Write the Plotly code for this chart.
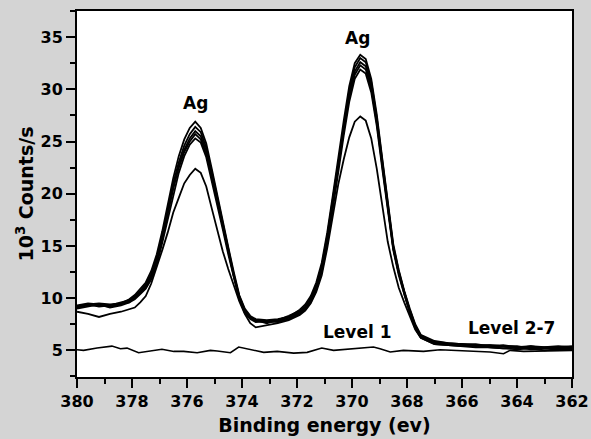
import plotly.graph_objects as go

# Shared binding-energy grid for the Ag spectra (eV)
energy = [380.0, 379.6, 379.2, 378.8, 378.4, 378.1, 377.9, 377.7, 377.5, 377.3,
          377.1, 376.9, 376.7, 376.5, 376.3, 376.1, 375.9, 375.7, 375.5, 375.3,
          375.1, 374.9, 374.7, 374.5, 374.3, 374.1, 373.9, 373.7, 373.5, 373.1,
          372.7, 372.3, 371.9, 371.7, 371.5, 371.3, 371.1, 370.9, 370.7, 370.5,
          370.3, 370.1, 369.9, 369.7, 369.5, 369.3, 369.1, 368.9, 368.7, 368.5,
          368.3, 368.1, 367.9, 367.7, 367.5, 367.0, 366.5, 366.0, 365.5, 365.0,
          364.5, 364.0, 363.5, 363.0, 362.5, 362.0]

# 10^3 counts/s, levels 2-7
level2 = [8.7, 8.5, 8.2, 8.5, 8.7, 8.9, 9.1, 9.6, 10.2, 11.4,
          12.9, 14.6, 16.3, 18.2, 19.6, 21.0, 21.8, 22.4, 22.0, 20.7,
          18.6, 16.4, 14.5, 12.8, 11.2, 9.7, 8.5, 7.6, 7.2, 7.4,
          7.6, 7.9, 8.4, 8.8, 9.5, 10.6, 12.2, 14.8, 17.8, 20.9,
          23.3, 25.4, 26.9, 27.4, 27.0, 25.3, 22.4, 18.7, 15.4, 13.0,
          11.0, 9.6, 8.2, 7.0, 6.2, 5.6, 5.5, 5.4, 5.3, 5.3,
          5.2, 5.1, 5.2, 5.0, 5.1, 5.1]
level3 = [9.0, 9.2, 9.4, 9.1, 9.3, 9.6, 9.9, 10.4, 10.9, 11.8,
          13.2, 15.3, 17.6, 20.0, 22.0, 23.6, 24.7, 25.3, 24.9, 23.5,
          21.3, 18.9, 16.6, 14.2, 12.0, 9.9, 8.6, 8.0, 7.7, 7.8,
          7.7, 8.0, 8.5, 8.9, 9.6, 10.8, 12.5, 15.2, 18.5, 22.3,
          25.6, 28.8, 31.0, 31.9, 31.5, 29.7, 26.5, 22.4, 18.3, 14.6,
          12.2, 10.3, 8.6, 7.1, 6.2, 5.6, 5.5, 5.4, 5.5, 5.3,
          5.2, 5.3, 5.1, 5.2, 5.1, 5.2]
level4 = [9.2, 9.4, 9.2, 9.3, 9.5, 9.6, 10.1, 10.6, 11.2, 12.2,
          13.7, 15.8, 18.3, 20.6, 22.5, 24.0, 25.0, 25.7, 25.2, 23.8,
          21.6, 19.2, 16.8, 14.4, 12.2, 10.1, 8.8, 8.1, 7.9, 7.6,
          7.9, 8.2, 8.7, 9.1, 9.9, 11.1, 12.9, 15.8, 19.2, 22.9,
          26.2, 29.3, 31.4, 32.3, 31.9, 30.1, 26.8, 22.7, 18.5, 14.8,
          12.4, 10.5, 8.8, 7.3, 6.4, 5.8, 5.6, 5.6, 5.4, 5.5,
          5.4, 5.2, 5.4, 5.3, 5.3, 5.1]
level5 = [9.1, 9.3, 9.3, 9.2, 9.4, 9.7, 10.0, 10.5, 11.0, 12.0,
          13.5, 15.6, 18.1, 20.5, 22.6, 24.2, 25.3, 26.0, 25.5, 24.1,
          21.8, 19.3, 16.9, 14.4, 12.1, 10.0, 8.7, 8.1, 7.8, 7.7,
          7.8, 8.1, 8.6, 9.0, 9.8, 11.0, 12.8, 15.6, 19.0, 22.8,
          26.2, 29.5, 31.7, 32.6, 32.2, 30.3, 27.0, 22.8, 18.6, 14.8,
          12.4, 10.4, 8.7, 7.2, 6.3, 5.7, 5.6, 5.5, 5.45, 5.4,
          5.35, 5.3, 5.3, 5.25, 5.2, 5.3]
level6 = [9.3, 9.5, 9.4, 9.3, 9.6, 9.8, 10.2, 10.7, 11.3, 12.3,
          13.9, 16.0, 18.5, 21.0, 23.0, 24.6, 25.7, 26.4, 25.9, 24.4,
          22.1, 19.6, 17.2, 14.7, 12.3, 10.2, 8.9, 8.2, 7.9, 7.8,
          7.9, 8.3, 8.8, 9.2, 10.0, 11.3, 13.1, 16.0, 19.4, 23.2,
          26.6, 29.9, 32.1, 33.0, 32.6, 30.7, 27.3, 23.1, 18.9, 15.0,
          12.6, 10.6, 8.9, 7.4, 6.4, 5.8, 5.7, 5.6, 5.5, 5.5,
          5.4, 5.4, 5.2, 5.3, 5.4, 5.3]
level7 = [9.2, 9.4, 9.5, 9.4, 9.5, 9.9, 10.3, 10.9, 11.5, 12.6,
          14.2, 16.4, 19.0, 21.5, 23.6, 25.2, 26.3, 26.9, 26.3, 24.8,
          22.4, 19.8, 17.4, 14.9, 12.5, 10.3, 9.0, 8.3, 8.0, 7.9,
          8.0, 8.2, 8.9, 9.4, 10.2, 11.5, 13.4, 16.3, 19.8, 23.6,
          27.0, 30.3, 32.5, 33.3, 32.9, 31.0, 27.6, 23.4, 19.1, 15.2,
          12.7, 10.7, 9.0, 7.5, 6.5, 5.9, 5.7, 5.6, 5.6, 5.4,
          5.5, 5.3, 5.4, 5.2, 5.3, 5.4]

# Level 1 (no Ag signal)
level1_energy = [380.0, 379.76, 379.27, 378.73, 378.42, 378.18, 377.76, 377.39, 376.91, 376.48,
                 376.12, 375.63, 375.15, 374.9, 374.42, 374.12, 373.69, 373.21, 372.72, 372.12,
                 371.63, 371.1, 370.67, 369.95, 369.22, 368.98, 368.61, 368.13, 367.4, 366.8,
                 366.19, 365.46, 364.98, 364.49, 364.25, 363.76, 363.03, 362.55, 362.0]
level1 = [5.06, 5.0, 5.22, 5.41, 5.16, 5.22, 4.77, 4.9, 5.1, 4.9,
          4.9, 4.77, 5.0, 4.94, 4.77, 5.32, 5.06, 4.81, 4.9, 4.74,
          4.81, 5.22, 5.0, 5.16, 5.32, 5.16, 4.84, 5.0, 4.9, 5.06,
          5.0, 4.9, 4.84, 4.68, 5.0, 4.9, 4.94, 5.0, 5.0]

x_ticks = [380, 378, 376, 374, 372, 370, 368, 366, 364, 362]
y_ticks = [5, 10, 15, 20, 25, 30, 35]

labels_text = ["Ag", "Ag", "Level 1", "Level 2-7"]
labels_x = [375.7, 369.8, 369.8, 364.2]
labels_y = [28.7, 34.9, 6.8, 7.1]

FONT = "DejaVu Sans"
fig = go.Figure()
for series in [level2, level3, level4, level5, level6, level7]:
    fig.add_trace(go.Scatter(x=energy, y=series, mode="lines",
                             line=dict(color="black", width=1.8), showlegend=False))
fig.add_trace(go.Scatter(x=level1_energy, y=level1, mode="lines",
                         line=dict(color="black", width=1.6), showlegend=False))

for t, xx, yy in zip(labels_text, labels_x, labels_y):
    fig.add_annotation(x=xx, y=yy, xref="x", yref="y", text="<b>" + t + "</b>",
                       showarrow=False,
                       font=dict(family=FONT, size=17, color="black"))

axis_common = dict(showgrid=False, zeroline=False, showline=True, linecolor="black",
                   linewidth=2, mirror=True, ticks="outside", ticklen=9, tickwidth=1.5,
                   tickcolor="black", automargin=False,
                   tickfont=dict(family=FONT, size=16, color="black"))

fig.update_xaxes(range=[380, 362], tickvals=x_ticks,
                 ticktext=["<b>%d</b>" % v for v in x_ticks],
                 minor=dict(dtick=1, tick0=0, ticks="outside", ticklen=5, tickwidth=1.5,
                            tickcolor="black"),
                 title=dict(text="<b>Binding energy (ev)</b>", standoff=8,
                            font=dict(family=FONT, size=19, color="black")),
                 **axis_common)
fig.update_yaxes(range=[2.45, 37.5], tickvals=y_ticks,
                 ticktext=["<b>%d</b>" % v for v in y_ticks],
                 minor=dict(dtick=2.5, tick0=0, ticks="outside", ticklen=5, tickwidth=1.5,
                            tickcolor="black"),
                 title=dict(text="<b>10<sup>3</sup> Counts/s</b>", standoff=2,
                            font=dict(family=FONT, size=19, color="black")),
                 **axis_common)

fig.update_layout(width=591, height=439, paper_bgcolor="#d4d4d4", plot_bgcolor="white",
                  margin=dict(l=77, r=19, t=11, b=62))

fig.write_html("out.html", config={"displayModeBar": False},
               post_script="document.body.style.margin='0';document.body.style.background='#d4d4d4';")
